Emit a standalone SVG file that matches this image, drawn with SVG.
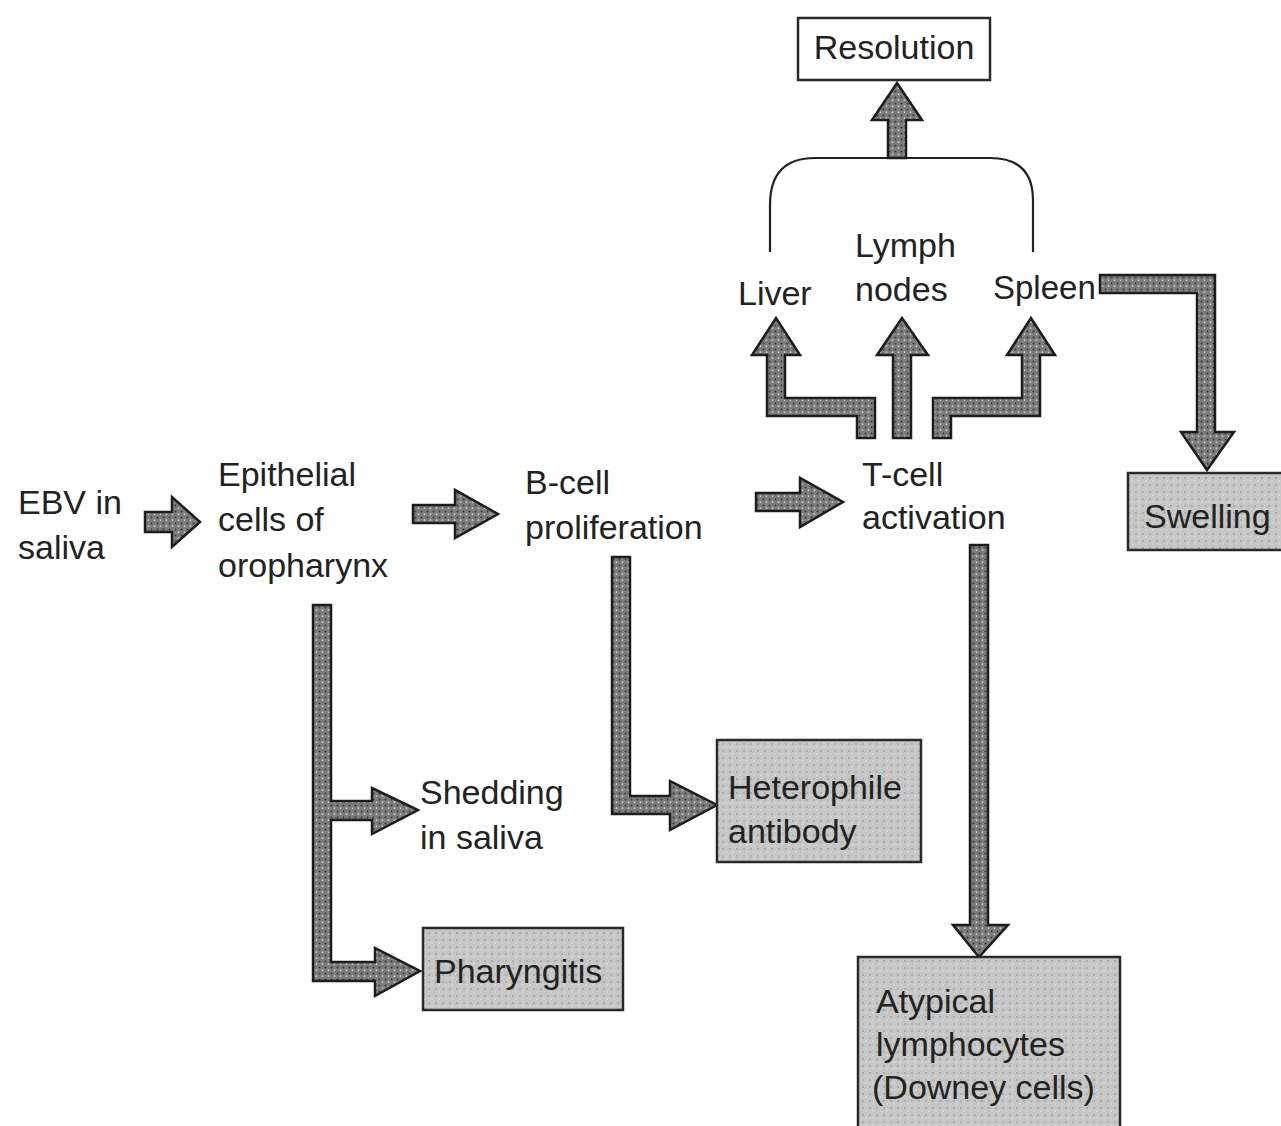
<svg xmlns="http://www.w3.org/2000/svg" width="1281" height="1126" viewBox="0 0 1281 1126">
<defs>
<pattern id="stip" width="6" height="6" patternUnits="userSpaceOnUse">
<rect width="6" height="6" fill="#7c7c7c"/>
<circle cx="1.5" cy="1.5" r="1" fill="#3a3a3a"/>
<circle cx="4.5" cy="4.2" r="0.9" fill="#c8c8c8"/>
</pattern>
<pattern id="boxfill" width="7" height="7" patternUnits="userSpaceOnUse">
<rect width="7" height="7" fill="#c6c6c6"/>
<circle cx="2" cy="2" r="0.8" fill="#8e8e8e"/>
<circle cx="5" cy="5" r="0.8" fill="#e4e4e4"/>
</pattern>
<style>
.t{font-family:"Liberation Sans","DejaVu Sans",sans-serif;font-size:34px;fill:#222;}
.arr{fill:url(#stip);stroke:#1c1c1c;stroke-width:2.5;stroke-linejoin:miter;}
.box{fill:url(#boxfill);stroke:#2a2a2a;stroke-width:2.5;}
.plain{fill:#fff;stroke:#2a2a2a;stroke-width:2.5;}
.br{fill:none;stroke:#222;stroke-width:2.2;}
</style>
</defs>
<rect width="1281" height="1126" fill="#ffffff"/>

<g id="connectors">
<path class="br" d="M770,252 V205 Q770,158 815,158 H990 Q1033,158 1033,200 V252"/>
<polygon class="arr" points="888,158 906,158 906,120 922,120 897,83 872,120 888,120"/>
<polygon class="arr" points="145,512 172,512 172,497 200,522 172,547 172,532 145,532"/>
<polygon class="arr" points="413,505 455,505 455,490 498,514 455,538 455,523 413,523"/>
<polygon class="arr" points="756,493 800,493 800,478 843,502 800,527 800,511 756,511"/>
<polygon class="arr" points="313,605 331,605 331,801 372,801 372,788 418,810 372,834 372,820 331,820 331,962 375,962 375,948 420,971 375,996 375,981 313,981"/>
<polygon class="arr" points="612,557 630,557 630,796 670,796 670,781 717,805 670,830 670,814 612,814"/>
<polygon class="arr" points="970,545 988,545 988,925 1008,925 979,957 953,925 970,925"/>
<polygon class="arr" points="893,438 911,438 911,355 928,355 902,318 877,355 893,355"/>
<polygon class="arr" points="857,438 875,438 875,398 785,398 785,355 800,355 776,318 752,355 767,355 767,416 857,416"/>
<polygon class="arr" points="933,438 951,438 951,416 1040,416 1040,355 1055,355 1031,318 1007,355 1022,355 1022,398 933,398"/>
<polygon class="arr" points="1100,275 1215,275 1215,432 1234,432 1207,470 1181,432 1197,432 1197,293 1100,293"/>
</g>

<g id="ebv"><text class="t" x="18" y="514">EBV in</text><text class="t" x="18" y="559">saliva</text></g>
<g id="epithelial"><text class="t" x="218" y="486">Epithelial</text><text class="t" x="218" y="531">cells of</text><text class="t" x="218" y="577">oropharynx</text></g>
<g id="bcell"><text class="t" x="525" y="494">B-cell</text><text class="t" x="525" y="539">proliferation</text></g>
<g id="tcell"><text class="t" x="862" y="486">T-cell</text><text class="t" x="862" y="529">activation</text></g>
<g id="liver"><text class="t" x="738" y="305">Liver</text></g>
<g id="lymph"><text class="t" x="855" y="257">Lymph</text><text class="t" x="855" y="301">nodes</text></g>
<g id="spleen"><text class="t" x="993" y="299" style="font-size:33px">Spleen</text></g>
<g id="resolution"><rect class="plain" x="798" y="18" width="192" height="62"/><text class="t" x="894" y="59" text-anchor="middle">Resolution</text></g>
<g id="swelling"><rect class="box" x="1128" y="473" width="160" height="77"/><text class="t" x="1144" y="528">Swelling</text></g>
<g id="shedding"><text class="t" x="420" y="804">Shedding</text><text class="t" x="420" y="849">in saliva</text></g>
<g id="heterophile"><rect class="box" x="717" y="740" width="204" height="122"/><text class="t" x="728" y="799">Heterophile</text><text class="t" x="728" y="843">antibody</text></g>
<g id="pharyngitis"><rect class="box" x="423" y="928" width="200" height="82"/><text class="t" x="434" y="983">Pharyngitis</text></g>
<g id="atypical"><rect class="box" x="858" y="957" width="262" height="175"/><text class="t" x="876" y="1013">Atypical</text><text class="t" x="876" y="1056">lymphocytes</text><text class="t" x="872" y="1099">(Downey cells)</text></g>
</svg>
